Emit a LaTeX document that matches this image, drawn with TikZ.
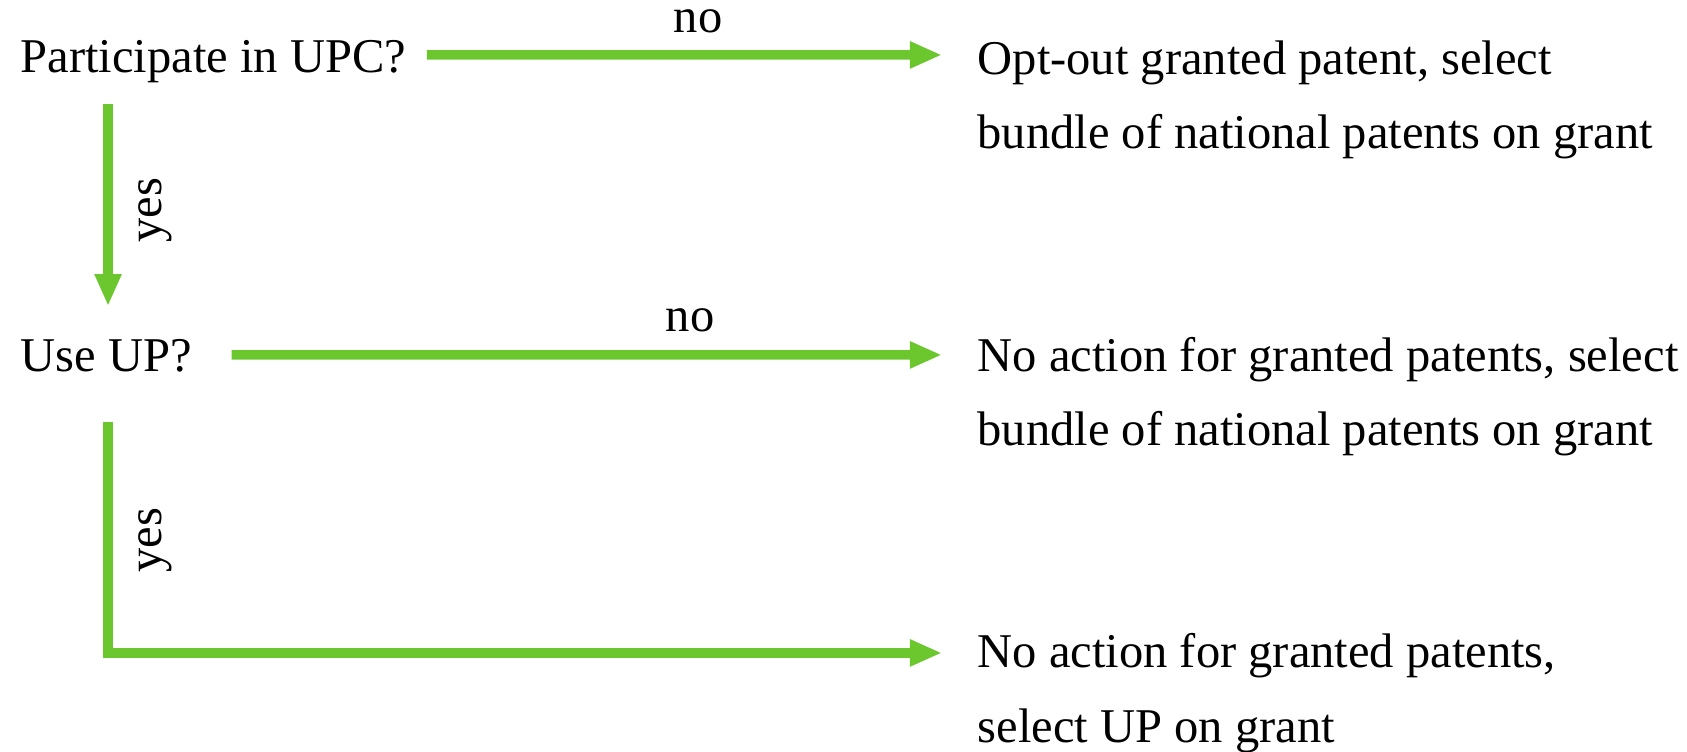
\documentclass[tikz,border=0pt]{standalone}
\usepackage{fontspec}
\setmainfont{Liberation Serif}
\usetikzlibrary{arrows.meta}

\definecolor{flowgreen}{HTML}{6CC72F}

\tikzstyle{txt}=[inner sep=0pt,anchor=base west,align=left,font=\fontsize{13.8}{21.3}\selectfont]
\tikzstyle{lbl}=[inner sep=0pt,font=\fontsize{13.8}{16}\selectfont]
\tikzstyle{flow}=[draw=flowgreen,line width=2.7pt,-{Triangle[length=0.32cm,width=0.25cm]}]

\begin{document}
\begin{tikzpicture}[x=0.01cm,y=-0.01cm]

   \useasboundingbox (0,0) rectangle (1687,752);

   % Questions

   \node[txt] (upc) at (20,73) {Participate in UPC?};
   \node[txt] (use) at (20,372) {Use UP?};

   % Outcomes (placed at the baseline of their last line)

   \node[txt] (opt) at (977,149) {Opt-out granted patent, select\\bundle of national patents on grant};
   \node[txt] (noact) at (977,446) {No action for granted patents, select\\bundle of national patents on grant};
   \node[txt] (upact) at (977,742) {No action for granted patents,\\select UP on grant};

   % Answers

   \node[lbl,anchor=base] (no1) at (698,33) {no};
   \node[lbl,anchor=base] (no2) at (690,332) {no};
   \node[lbl,rotate=90] (yes1) at (155,210) {yes};
   \node[lbl,rotate=90] (yes2) at (155,540) {yes};

   % Arrows

   \draw[flow] ([xshift=0.2cm,yshift=0.18cm]upc.base east) -- ([xshift=-0.35cm,yshift=0.94cm]opt.base west);
   \draw[flow] ([xshift=0.88cm,yshift=-0.195cm]upc.south west) -- ([xshift=0.88cm,yshift=0.33cm]use.north west);
   \draw[flow] ([xshift=0.39cm,yshift=0.17cm]use.base east) -- ([xshift=-0.35cm,yshift=0.91cm]noact.base west);
   \draw[flow] ([xshift=0.88cm,yshift=-0.49cm]use.south west) |- ([xshift=-0.35cm,yshift=0.89cm]upact.base west);

\end{tikzpicture}
\end{document}
